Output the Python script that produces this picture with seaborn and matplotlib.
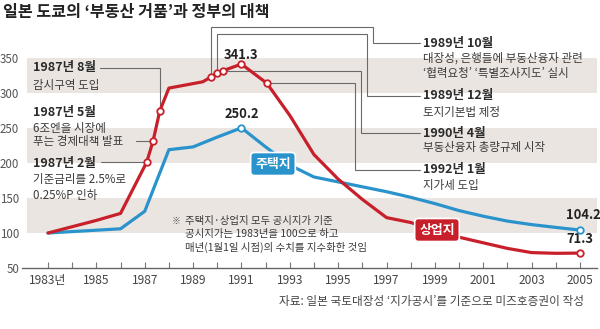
import matplotlib
matplotlib.use("Agg")
import matplotlib.pyplot as plt
import numpy as np
import pandas as pd
import seaborn as sns

# ---------------- data ----------------
commercial_year = [1983, 1984, 1985, 1986, 1987.08, 1987.35, 1987.62, 1988, 1989.4,
                   1989.75, 1990.0, 1990.25, 1991, 1992.05, 1993, 1994, 1995, 1996,
                   1997, 1998, 1999, 2000, 2001, 2002, 2003, 2004, 2005]
commercial_value = [100, 109, 118, 128, 201, 232, 274, 307, 316,
                    323, 328, 332, 341.3, 314, 268, 212, 177, 148,
                    122, 115, 104, 94, 86, 78, 72, 71, 71.3]
commercial_marked = [1987.08, 1987.35, 1987.62, 1989.75, 1990.0, 1990.25, 1991, 1992.05, 2005]

residential_year = [1983, 1984, 1985, 1986, 1987, 1988, 1989, 1990, 1991, 1992, 1993,
                    1994, 1995, 1996, 1997, 1998, 1999, 2000, 2001, 2002, 2003, 2004, 2005]
residential_value = [100, 102, 104, 106, 131, 219, 223, 237, 250.2, 223, 197,
                     180, 173, 166, 159, 151, 142, 132, 124, 117, 112, 108, 104.2]
residential_marked = [1991, 2005]

y_ticks = [50, 100, 150, 200, 250, 300, 350]
x_ticks = [1983, 1985, 1987, 1989, 1991, 1993, 1995, 1997, 1999, 2001, 2003, 2005]
x_tick_labels = ["1983년", "1985", "1987", "1989", "1991", "1993", "1995",
                 "1997", "1999", "2001", "2003", "2005"]

# events on the commercial line: (year of marker, date label, description lines)
left_events = [
    (1987.62, "1987년 8월", ["감시구역 도입"]),
    (1987.35, "1987년 5월", ["6조엔을 시장에", "푸는 경제대책 발표"]),
    (1987.08, "1987년 2월", ["기준금리를 2.5%로", "0.25%P 인하"]),
]
right_events = [
    (1989.75, "1989년 10월", ["대장성, 은행들에 부동산융자 관련", "‘협력요청’ ‘특별조사지도’ 실시"]),
    (1990.0, "1989년 12월", ["토지기본법 제정"]),
    (1990.25, "1990년 4월", ["부동산융자 총량규제 시작"]),
    (1992.05, "1992년 1월", ["지가세 도입"]),
]

title = "일본 도쿄의 ‘부동산 거품’과 정부의 대책"
source = "자료: 일본 국토대장성 ‘지가공시’를 기준으로 미즈호증권이 작성"
note = ["주택지·상업지 모두 공시지가 기준", "공시지가는 1983년을 100으로 하고", "매년(1월1일 시점)의 수치를 지수화한 것임"]

# ---------------- style ----------------
sns.set_theme(style="white")
plt.rcParams["font.family"] = ["Noto Sans CJK KR", "DejaVu Sans"]

RED = "#c8202b"
BLUE = "#2b93cc"
BAND = "#ebe5e1"
LEAD = "#6a6a6a"
TXT = "#2a2a2a"
DESC = "#3a3a3a"

W, H = 600, 329
fig = plt.figure(figsize=(6, 3.29), dpi=100)
fig.patch.set_facecolor("white")

# pixel <-> data helpers
PX_PER_YEAR = 24.18
PX_PER_UNIT = 0.70
def dx(px):
    return 1983 + (px - 48) / PX_PER_YEAR
def dy(py):
    return 50 + (268 - py) / PX_PER_UNIT

ax = fig.add_axes([22 / W, 1 - 268 / H, (597 - 22) / W, (268 - 20) / H])
ax.set_xlim(dx(22), dx(597))
ax.set_ylim(50, dy(20))
ax.set_facecolor("none")

for lo in (100, 200, 300):
    ax.axhspan(lo, lo + 50, xmin=(27 - 22) / 575, xmax=1, color=BAND, lw=0, zorder=0)

com = pd.DataFrame({"year": commercial_year, "value": commercial_value})
res = pd.DataFrame({"year": residential_year, "value": residential_value})

sns.lineplot(data=res, x="year", y="value", color=BLUE, lw=2.3, ax=ax, zorder=3)
sns.lineplot(data=com, x="year", y="value", color=RED, lw=2.3, ax=ax, zorder=3)

# leader lines
cval = dict(zip(commercial_year, commercial_value))
lk = dict(color=LEAD, lw=0.8, zorder=2, solid_joinstyle="miter")
ex, ey = 1987.08, cval[1987.08]
ax.plot([dx(101), ex], [ey, ey], **lk)
ex, ey = 1987.35, cval[1987.35]
ax.plot([dx(136), ex], [ey, ey], **lk)
ex, ey = 1987.62, cval[1987.62]
ax.plot([dx(100), ex, ex], [dy(68), dy(68), ey], **lk)
ex, ey = 1989.75, cval[1989.75]
ax.plot([ex, ex, dx(373), dx(373), dx(420)], [ey, dy(27), dy(27), dy(43), dy(43)], **lk)
ex, ey = 1990.0, cval[1990.0]
ax.plot([ex, ex, dx(367), dx(367), dx(420)], [ey, dy(34), dy(34), dy(96), dy(96)], **lk)
ex, ey = 1990.25, cval[1990.25]
ax.plot([ex, dx(361), dx(361), dx(420)], [ey, ey, dy(133), dy(133)], **lk)
ex, ey = 1992.05, cval[1992.05]
ax.plot([ex, dx(355), dx(355), dx(420)], [ey, ey, dy(170), dy(170)], **lk)

# markers
cm = com[com["year"].isin(commercial_marked)]
rm = res[res["year"].isin(residential_marked)]
sns.scatterplot(data=cm, x="year", y="value", color="white", edgecolor=RED, linewidth=1.3,
                s=22, ax=ax, zorder=5, legend=False)
sns.scatterplot(data=rm, x="year", y="value", color="white", edgecolor=BLUE, linewidth=1.3,
                s=22, ax=ax, zorder=5, legend=False)

# axes styling
for s in ("left", "right", "top"):
    ax.spines[s].set_visible(False)
ax.spines["bottom"].set_color("#666666")
ax.spines["bottom"].set_linewidth(1.0)
ax.set_xticks(x_ticks)
ax.set_xticklabels(x_tick_labels)
ax.set_xticks([y for y in range(1984, 2005, 2)], minor=True)
ax.tick_params(axis="x", which="both", direction="in", length=4, width=0.8,
               color="#777777", pad=4, labelsize=8.6, labelcolor="#444444", bottom=True)
ax.set_yticks(y_ticks)
ax.tick_params(axis="y", length=0, pad=2, labelsize=8.3, labelcolor="#555555")
ax.set_xlabel("")
ax.set_ylabel("")
ax.grid(False)

def ftext(px, py, s, **kw):
    fig.text(px / W, 1 - py / H, s, va="center", **kw)

# title & source
ftext(3, 12, title, fontsize=11.6, fontweight="bold", color="#222222")
ftext(584, 302, source, fontsize=8.4, color="#444444", ha="right")

# left labels
left_y = [(68, [86]), (112, [128, 142]), (163, [180, 196])]
for (yr, date, lines), (py, lys) in zip(left_events, left_y):
    ftext(33, py, date, fontsize=9, fontweight="bold", color=TXT)
    for l, ly in zip(lines, lys):
        ftext(33, ly, l, fontsize=8.3, color=DESC)

right_y = [(43, [58, 73]), (96, [112]), (133, [148]), (170, [186])]
for (yr, date, lines), (py, lys) in zip(right_events, right_y):
    ftext(423, py, date, fontsize=9, fontweight="bold", color=TXT)
    for l, ly in zip(lines, lys):
        ftext(423, ly, l, fontsize=8.3, color=DESC)

# note
ftext(172, 221, "※", fontsize=6.5, color="#555555")
for l, ly in zip(note, [221, 234, 247]):
    ftext(185, ly, l, fontsize=7.5, color=DESC)

# value labels
ax.text(1991, cval[1991] + 13, f"{cval[1991]:.1f}", ha="center", va="center",
        fontsize=9.3, fontweight="bold", color="#222222")
rv = dict(zip(residential_year, residential_value))
ax.text(1991, rv[1991] + 20, f"{rv[1991]:.1f}", ha="center", va="center",
        fontsize=9.3, fontweight="bold", color="#222222")
ax.text(2005.15, rv[2005] + 21, f"{rv[2005]:.1f}", ha="center", va="center",
        fontsize=9.3, fontweight="bold", color="#222222")
ax.text(2005.0, cval[2005] + 20, f"{cval[2005]:.1f}", ha="center", va="center",
        fontsize=9.3, fontweight="bold", color="#222222")

# series labels
ax.text(dx(273), dy(164), "주택지", ha="center", va="center", fontsize=9.3, fontweight="bold",
        color="white", zorder=6,
        bbox=dict(boxstyle="round,pad=0.35,rounding_size=0.3", fc=BLUE, ec="white", lw=1.2))
ax.text(dx(437), dy(230), "상업지", ha="center", va="center", fontsize=9.3, fontweight="bold",
        color="white", zorder=6,
        bbox=dict(boxstyle="round,pad=0.35,rounding_size=0.3", fc=RED, ec="white", lw=1.2))

fig.savefig("out.png", dpi=100, facecolor="white")
